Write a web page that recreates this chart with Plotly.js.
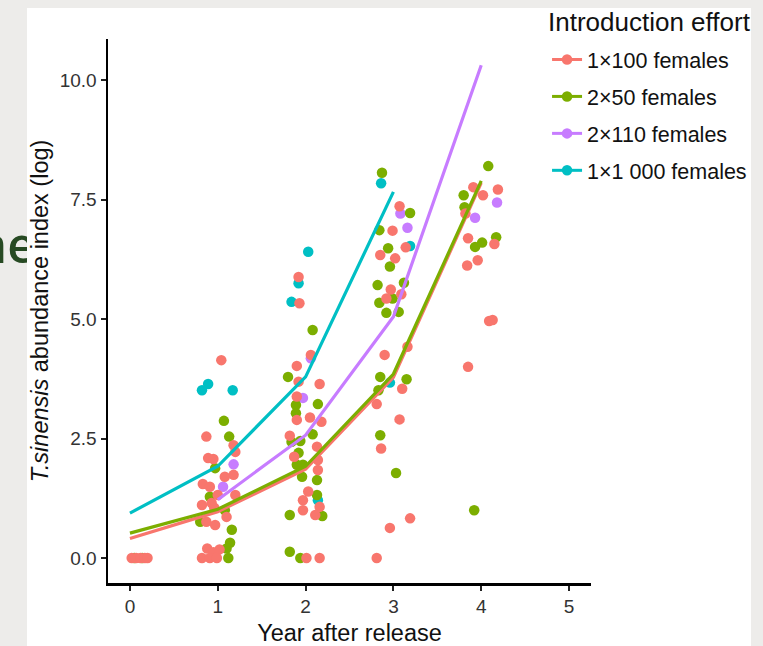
<!DOCTYPE html>
<html>
<head>
<meta charset="utf-8">
<script src="https://cdn.plot.ly/plotly-3.0.1.min.js"></script>
<style>
  html, body { margin: 0; padding: 0; width: 763px; height: 646px; overflow: hidden; background: #edecea; }
  #bgtext { position: absolute; left: 0; top: 0; width: 60px; height: 300px; }
  #chart { position: absolute; left: 27px; top: 8px; width: 724px; height: 638px; background: #ffffff; }
</style>
</head>
<body>
<svg id="bgtext" width="60" height="300"><text x="-24" y="263" font-family="Open Sans" font-weight="600" font-size="49" fill="#274a23">ne</text></svg>
<div id="chart"></div>
<script>
// ---- data ----
const seriesNames = ["1×100 females", "2×50 females", "2×110 females", "1×1 000 females"];
const seriesColors = ["#F8766D", "#7CAE00", "#C77CFF", "#00BFC4"];
const legendTitle = "Introduction effort";

// observations (jittered year, abundance index)
const red_x = [0.02,0.07,0.12,0.17,0.20,
  1.04,0.87,1.18,1.20,0.89,0.95,1.08,1.18,0.83,0.91,1.20,1.00,0.82,0.93,0.96,1.10,0.87,0.97,0.88,0.95,1.02,0.82,0.91,0.99,
  1.92,1.93,2.06,1.90,1.92,2.16,1.90,1.90,2.05,2.18,1.82,2.13,1.87,2.14,2.14,2.03,1.97,2.16,1.97,2.11,2.01,2.16,
  3.07,2.99,3.14,2.85,3.02,2.97,3.09,2.92,3.16,2.90,3.10,2.81,3.07,2.86,3.19,2.96,2.81,
  3.91,4.02,4.19,3.82,3.85,4.15,3.96,3.84,4.09,4.13,3.85];
const red_y = [0,0,0,0,0,
  4.14,2.54,2.36,2.22,2.09,2.07,1.70,1.74,1.55,1.49,1.32,1.32,1.11,1.15,1.05,0.86,0.76,0.69,0.20,0.12,0.18,0,0,0,
  5.88,5.33,4.25,4.02,3.69,3.64,3.38,2.89,2.94,2.85,2.56,2.33,2.12,2.05,1.84,1.39,1.21,1.07,1.00,0.90,0,0,
  7.36,6.85,6.50,6.34,6.27,5.62,5.52,5.43,4.42,4.25,3.54,3.22,2.90,2.29,0.83,0.63,0,
  7.76,7.59,7.71,7.21,6.69,6.57,6.23,6.12,4.96,4.98,4.00];

const green_x = [0.05,0.14,
  1.07,1.13,0.97,0.91,1.08,0.80,1.16,1.14,1.10,1.12,
  2.08,1.80,1.89,2.14,1.89,2.08,1.84,1.94,1.92,1.90,1.97,1.96,2.13,2.13,1.82,2.19,1.82,1.94,
  2.87,3.19,2.84,2.94,2.96,2.82,3.12,2.99,2.84,3.06,2.92,2.85,3.15,2.83,2.85,3.03,
  4.08,3.80,3.81,3.93,4.01,4.17,3.92];
const green_y = [0,0,
  2.87,2.54,1.88,1.28,1.00,0.76,0.59,0.32,0.20,0,
  4.77,3.79,3.20,3.22,3.03,2.59,2.43,2.45,2.20,1.95,1.95,1.70,1.63,1.32,0.90,0.88,0.13,0,
  8.06,7.22,6.86,6.48,6.10,5.71,5.76,5.43,5.34,5.15,5.13,3.79,3.74,3.51,2.57,1.78,
  8.20,7.59,7.34,6.51,6.60,6.71,1.00];

const purple_x = [1.18,1.06,2.06,1.97,3.08,3.16,4.18,3.93];
const purple_y = [1.96,1.49,4.18,3.35,7.21,6.91,7.44,7.12];

const cyan_x = [0.82,0.89,1.17,2.03,1.92,1.84,2.14,2.86,3.19,2.96];
const cyan_y = [3.51,3.64,3.51,6.41,5.75,5.36,1.21,7.84,6.53,3.67];

// fitted trends
const red_fit_x = [0,1,2,3,4];
const red_fit_y = [0.41,0.97,1.86,3.78,7.85];
const green_fit_x = [0,1,2,3,4];
const green_fit_y = [0.52,1.02,1.92,3.85,7.89];
const purple_fit_x = [1,2,3,4];
const purple_fit_y = [1.22,2.57,5.05,10.31];
const cyan_fit_x = [0,1,2,3];
const cyan_fit_y = [0.94,1.92,3.79,7.66];

const xTicks = [0,1,2,3,4,5];
const yTicks = [0,2.5,5,7.5,10];
const yTickText = ["0.0","2.5","5.0","7.5","10.0"];

// ---- traces ----
const pts = [[cyan_x,cyan_y,3],[purple_x,purple_y,2],[green_x,green_y,1],[red_x,red_y,0]];
const traces = [];
pts.forEach(p => {
  traces.push({x:p[0], y:p[1], type:'scatter', mode:'markers', showlegend:false, hoverinfo:'skip',
    marker:{color:seriesColors[p[2]], size:10.5, line:{width:0}}});
});
const fits = [[red_fit_x,red_fit_y,0],[green_fit_x,green_fit_y,1],[purple_fit_x,purple_fit_y,2],[cyan_fit_x,cyan_fit_y,3]];
fits.forEach(f => {
  traces.push({x:f[0], y:f[1], type:'scatter', mode:'lines', showlegend:false, hoverinfo:'skip',
    line:{color:seriesColors[f[2]], width:3.2}});
});
// legend entries (line + point, as in the reference)
seriesNames.forEach((n,i) => {
  traces.push({x:[null], y:[null], type:'scatter', mode:'lines+markers', name:n, legendgroup:'g'+i,
    line:{color:seriesColors[i], width:3}, marker:{color:seriesColors[i], size:10.5}});
});

const layout = {
  width: 724, height: 638,
  paper_bgcolor: '#ffffff', plot_bgcolor: '#ffffff',
  margin: {l:81, r:160, t:31, b:63, autoexpand:false},
  font: {family:'Liberation Sans, Arial, sans-serif', color:'#000'},
  xaxis: {range:[-0.25,5.25], tickvals:xTicks, ticktext:xTicks.map(String), showgrid:false, zeroline:false,
    showline:true, linecolor:'#000', linewidth:2.5, ticks:'outside', ticklen:5, tickwidth:2, tickcolor:'#222',
    tickfont:{size:19, color:'#333'},
    title:{text:'Year after release', font:{size:23.5, color:'#111'}, standoff:14}},
  yaxis: {range:[-0.523,10.86], tickvals:yTicks, ticktext:yTickText, showgrid:false, zeroline:false,
    showline:true, linecolor:'#000', linewidth:2.5, ticks:'outside', ticklen:5, tickwidth:2, tickcolor:'#222',
    tickfont:{size:19, color:'#333'},
    title:{text:'<i>T.sinensis</i> abundance index (log)', font:{size:23.5, color:'#111'}, standoff:8}},
  legend: {x:0.909, y:1.0, xanchor:'left', yanchor:'top', bgcolor:'rgba(0,0,0,0)',
    font:{size:21.5, color:'#111'}, tracegroupgap:6, itemwidth:30},
  annotations: [{text:legendTitle, xref:'paper', yref:'paper', x:0.907, y:1.0312, xanchor:'left', yanchor:'middle',
    showarrow:false, font:{size:26, color:'#111'}}],
  showlegend: true
};

Plotly.newPlot('chart', traces, layout, {displayModeBar:false, staticPlot:true});
</script>
</body>
</html>
